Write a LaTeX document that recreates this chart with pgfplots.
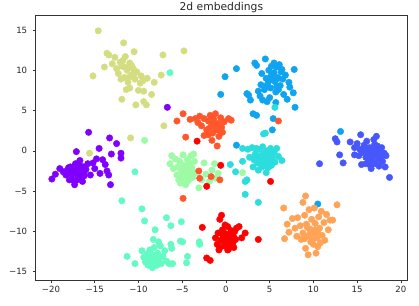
\documentclass[border=0pt]{standalone}
\usepackage{pgfplots}
\pgfplotsset{compat=1.18}
\usepackage{fontspec}
\setmainfont{DejaVu Sans}
\definecolor{c0}{RGB}{128,0,255}
\definecolor{c1}{RGB}{71,87,251}
\definecolor{c2}{RGB}{14,164,240}
\definecolor{c3}{RGB}{43,221,221}
\definecolor{c4}{RGB}{99,251,195}
\definecolor{c5}{RGB}{156,251,164}
\definecolor{c6}{RGB}{212,221,128}
\definecolor{c7}{RGB}{255,164,87}
\definecolor{c8}{RGB}{255,87,44}
\definecolor{c9}{RGB}{255,0,0}
\begin{document}
\begin{tikzpicture}
\path[use as bounding box] (-35.7bp,-26bp) rectangle (383.3bp,280bp);
\begin{axis}[
  at={(0,0)}, anchor=south west,
  scale only axis, width=371.3bp, height=264.3bp,
  xmin=-21.75, xmax=20.7, ymin=-16.03, ymax=16.77,
  axis line style={draw=black!80, line width=0.7bp},
  tick align=outside, xtick pos=bottom, ytick pos=left,
  major tick length=3bp,
  tick style={draw=black!80, line width=0.6bp},
  xtick={-20,-15,-10,-5,0,5,10,15,20},
  xticklabels={−20,−15,−10,−5,0,5,10,15,20},
  ytick={-15,-10,-5,0,5,10,15},
  yticklabels={−15,−10,−5,0,5,10,15},
  ticklabel style={font=\fontsize{8.6}{10}\selectfont, text=black!85},
  yticklabel style={xshift=-2bp},
  title={2d embeddings},
  title style={at={(0.5,1)}, anchor=base, yshift=-0.5bp, font=\fontsize{10.8}{12}\selectfont, text=black!85},
  only marks,
  every axis plot/.append style={mark=*, mark size=3.25bp, mark options={draw=none}},
]
% class 6 khaki
\addplot[color=c6] coordinates {(-15.6,-0.3)(-15.2,9.3)(-14.6,14.9)(-13.9,10.4)(-13.6,12.1)(-13.4,11.9)(-13.0,10.8)(-12.7,11.6)(-12.5,10.2)(-12.3,9.6)(-12.1,11.0)(-11.9,6.4)(-11.9,10.5)(-11.7,13.4)(-11.6,9.1)(-11.5,11.7)(-11.3,10.0)(-11.2,8.5)(-11.0,7.8)(-11.0,10.9)(-10.9,1.6)(-10.8,9.4)(-10.6,10.2)(-10.5,12.3)(-10.4,8.9)(-10.3,5.7)(-10.2,9.8)(-10.0,7.5)(-9.8,8.4)(-9.7,9.3)(-9.5,8.7)(-9.4,6.1)(-9.4,7.4)(-9.1,5.7)(-9.0,9.0)(-8.5,7.0)(-8.2,8.5)(-7.4,9.4)(-7.2,11.9)(-7.1,3.1)(-4.8,12.4)(-12.0,8.9)(-11.4,7.6)(-11.2,10.3)(-10.8,10.6)(-11.6,10.4)(-10.5,9.6)(-11.0,9.2)(-11.8,11.2)};
% class 0 purple
\addplot[color=c0] coordinates {(-19.9,-3.5)(-19.5,-2.9)(-19.0,-2.2)(-18.6,-2.6)(-18.3,-3.0)(-18.0,-2.1)(-17.8,-3.2)(-17.6,-2.6)(-17.4,-3.7)(-17.3,-4.2)(-17.2,-1.6)(-17.1,-0.1)(-17.0,-2.9)(-16.9,-2.3)(-16.8,-3.4)(-16.6,-1.9)(-16.5,-2.7)(-16.4,-3.8)(-16.2,-3.1)(-16.0,-2.3)(-15.8,-1.6)(-15.7,2.3)(-15.5,-3.0)(-15.2,-1.5)(-15.0,-2.2)(-14.8,-1.0)(-14.5,0.3)(-14.4,-2.8)(-14.1,-1.1)(-13.8,-1.7)(-13.6,-2.5)(-13.4,-3.0)(-13.3,1.6)(-13.2,-4.2)(-13.1,-0.4)(-12.5,0.9)(-12.0,-0.3)(-12.0,-0.9)(-17.5,-2.0)(-17.9,-3.6)(-16.7,-1.2)(-17.7,-2.4)(-16.3,-2.0)(-6.7,5.4)(-17.3,-2.7)(-16.9,-3.1)(-17.6,-3.0)(-16.5,-2.2)(-17.0,-3.6)(-18.2,-2.5)(-16.2,-2.6)(-17.8,-2.0)};
% class 1 blue
\addplot[color=c1] coordinates {(10.7,-1.6)(12.5,1.5)(12.7,1.1)(13.0,-0.5)(13.4,-1.5)(14.2,1.1)(14.7,0.4)(14.7,-0.5)(15.0,0.9)(15.3,0.2)(15.4,2.0)(15.5,-1.7)(15.6,-0.2)(15.8,0.7)(16.0,-0.8)(16.1,1.2)(16.2,-0.1)(16.3,-1.3)(16.4,0.4)(16.5,-0.6)(16.6,-2.2)(16.7,-1.0)(16.8,0.2)(16.9,1.4)(17.0,-0.4)(17.1,-1.6)(17.2,1.8)(17.3,0.6)(17.4,-0.9)(17.5,-1.9)(17.6,0.1)(17.8,-0.6)(17.9,-1.3)(18.1,-0.3)(18.2,-2.0)(18.3,-0.6)(18.7,-3.3)(16.0,-1.6)(15.9,0.3)(16.6,-0.2)(17.0,0.8)(15.2,-0.6)(16.3,-0.4)(16.8,-1.4)(17.2,-0.2)(16.0,0.0)(17.6,-1.1)(16.5,-1.8)(17.8,0.4)};
% class 2 light blue
\addplot[color=c2] coordinates {(-0.6,7.0)(-0.1,9.2)(1.2,10.2)(2.4,7.1)(2.6,6.9)(2.8,6.3)(3.1,4.6)(3.5,4.4)(3.3,10.9)(3.5,10.6)(3.7,7.4)(3.9,6.8)(4.0,8.2)(4.1,9.6)(4.2,6.3)(4.4,7.6)(4.5,11.4)(4.6,9.0)(4.7,6.1)(4.8,8.4)(4.9,10.0)(5.0,6.6)(5.1,7.8)(5.2,9.4)(5.3,2.6)(5.4,4.0)(5.5,10.9)(5.6,8.6)(5.7,6.0)(5.8,10.4)(5.9,9.1)(6.0,7.6)(6.1,10.7)(6.2,8.1)(6.3,9.8)(6.5,8.9)(6.6,7.0)(6.8,9.4)(7.0,6.4)(7.2,8.5)(7.3,7.9)(7.7,7.2)(7.8,10.1)(7.9,5.4)(5.3,8.9)(5.8,8.0)(1.2,0.7)(10.5,-6.6)(13.1,2.4)(5.5,9.7)(6.0,9.0)(5.0,8.8)(5.7,7.3)(6.4,10.1)(4.6,8.0)(5.2,10.5)};
% class 3 cyan
\addplot[color=c3] coordinates {(0.5,-1.7)(1.1,-2.6)(1.9,-1.3)(1.9,0.3)(2.2,-3.8)(2.4,-3.6)(2.2,-5.4)(2.5,0.2)(2.7,-0.8)(3.0,0.4)(3.1,-2.0)(3.2,-1.1)(3.4,-0.3)(3.5,0.3)(3.6,-1.5)(3.7,-2.4)(3.7,-6.4)(3.8,-0.7)(3.9,0.2)(4.0,-1.2)(4.1,-2.0)(4.2,0.5)(4.3,-0.4)(4.3,2.1)(4.5,2.2)(4.4,-1.6)(4.6,-0.9)(4.7,0.0)(4.8,-2.1)(4.9,-1.3)(5.0,-0.5)(5.1,0.3)(5.2,-1.8)(5.3,-0.9)(5.5,-0.2)(5.6,-1.4)(5.8,0.3)(6.0,-0.7)(6.4,-1.2)(5.6,5.4)(4.6,-2.7)(4.0,-0.6)(4.5,-0.3)(3.8,-1.4)(5.0,-1.0)(4.2,-1.9)(3.3,-0.6)};
% class 4 mint
\addplot[color=c4] coordinates {(-11.9,-6.2)(-11.3,-13.1)(-10.4,-14.0)(-10.4,-2.6)(-9.6,-7.2)(-9.3,-8.7)(-9.6,-12.4)(-9.4,-13.2)(-9.2,-13.8)(-9.0,-12.8)(-8.9,-14.2)(-8.8,-13.4)(-8.7,-12.3)(-8.5,-13.9)(-8.4,-14.5)(-8.3,-11.0)(-8.3,-13.0)(-8.2,-12.0)(-8.1,-9.8)(-8.0,-13.6)(-7.9,-14.2)(-7.8,-12.7)(-7.6,-13.3)(-7.5,-11.8)(-7.4,-14.0)(-7.2,-13.1)(-7.0,-12.4)(-6.8,-8.3)(-6.8,-13.7)(-6.5,-14.0)(-6.3,-9.3)(-6.3,-11.6)(-6.2,-12.1)(-6.1,-14.0)(-5.1,-8.8)(-5.2,-11.2)(-4.95,-11.3)(-4.4,-13.1)(-4.5,-13.9)(-3.05,-11.3)(-3.0,-11.6)(-6.4,9.7)(-8.6,-12.8)(-7.7,-11.3)(-8.4,-13.3)(-8.0,-12.9)(-8.7,-13.6)(-7.9,-13.9)(-8.2,-14.2)(-8.9,-13.0)};
% class 5 light green
\addplot[color=c5] coordinates {(-9.3,1.3)(-6.4,-1.6)(-6.2,-0.6)(-6.0,-2.2)(-5.8,-1.0)(-5.6,-3.0)(-5.5,-2.0)(-5.4,-3.6)(-5.3,-1.3)(-5.1,-2.6)(-5.0,-3.9)(-4.9,-0.5)(-4.8,-1.8)(-4.7,-3.2)(-4.5,-2.3)(-4.4,-1.1)(-4.3,-3.7)(-4.2,-2.8)(-4.1,-1.6)(-4.0,-0.6)(-3.9,-2.1)(-3.8,-3.3)(-3.7,-0.4)(-3.6,-1.3)(-3.5,-2.7)(-3.1,-4.6)(-2.8,-3.6)(-2.5,-1.5)(-2.3,-2.9)(-1.9,-3.8)(-1.6,-2.4)(-1.3,-1.6)(-0.9,-2.8)(-1.2,-3.4)(1.9,-2.7)(-5.2,-4.0)(-4.6,-4.2)(-4.5,-2.9)(-4.8,-2.2)(-4.2,-1.9)(-5.0,-3.2)(-4.0,-3.0)};
% class 7 orange
\addplot[color=c7] coordinates {(6.6,-7.1)(6.7,-10.9)(7.0,-9.1)(7.2,-10.1)(7.6,-8.4)(7.9,-9.6)(8.1,-10.6)(8.2,-8.3)(8.5,-9.3)(8.6,-11.0)(8.8,-6.4)(8.8,-10.2)(9.0,-8.0)(9.1,-5.6)(9.1,-12.1)(9.2,-9.1)(9.3,-10.6)(9.4,-12.9)(9.5,-7.3)(9.6,-9.7)(9.7,-11.3)(9.8,-8.5)(10.0,-10.2)(10.1,-7.1)(10.2,-9.0)(10.3,-12.7)(10.4,-10.8)(10.5,-11.9)(10.6,-8.2)(10.7,-9.6)(10.9,-7.5)(11.0,-10.5)(11.2,-8.9)(11.3,-11.1)(11.5,-7.9)(11.7,-9.8)(11.9,-8.6)(12.2,-8.6)(12.7,-6.7)(10.0,-11.6)(9.0,-10.9)(9.6,-10.3)(10.2,-9.8)(9.9,-11.0)(10.5,-10.2)(9.3,-9.5)(10.8,-11.4)};
% class 8 red-orange
\addplot[color=c8] coordinates {(-5.6,3.7)(-4.9,4.6)(-4.6,1.7)(-4.1,3.9)(-3.5,4.0)(-3.2,3.5)(-3.0,4.3)(-2.8,3.1)(-2.5,1.9)(-2.5,4.0)(-2.2,2.6)(-2.0,3.7)(-1.8,4.4)(-1.7,3.0)(-1.5,2.2)(-1.4,3.9)(-1.2,4.6)(-1.1,2.7)(-1.0,0.6)(-0.9,3.4)(-0.8,1.8)(-0.6,4.1)(-0.5,2.9)(-0.4,2.3)(-0.2,3.6)(0.3,4.0)(0.6,3.8)(-1.6,1.3)(6.0,3.7)(-3.1,-2.5)(-3.0,-3.4)(-1.7,-3.2)(-0.7,-3.6)(-4.9,-5.9)(-2.0,2.0)(-1.3,3.3)(-0.9,2.6)(-1.6,3.6)(-0.7,3.1)(-1.9,2.8)};
% class 9 red
\addplot[color=c9] coordinates {(-3.3,1.2)(-2.2,-4.4)(-0.6,-1.8)(5.1,-3.8)(-2.7,-9.5)(-2.2,-13.3)(-1.8,-13.6)(-0.5,-8.0)(-0.7,-8.5)(-1.2,-10.8)(-1.0,-11.6)(-0.9,-10.2)(-0.7,-12.0)(-0.6,-11.1)(-0.4,-9.8)(-0.3,-10.6)(-0.2,-11.8)(0.0,-10.3)(0.1,-11.3)(0.2,-9.4)(0.3,-12.2)(0.4,-10.8)(0.5,-11.7)(0.6,-9.9)(0.7,-10.5)(0.8,-11.4)(0.9,-12.0)(1.0,-10.0)(1.1,-11.0)(1.2,-9.6)(1.5,-9.4)(1.8,-10.8)(2.2,-10.2)(3.7,-11.0)(0.2,-12.3)(-0.8,-12.3)(-0.1,-9.2)(0.2,-10.9)(0.5,-10.3)(-0.2,-11.3)(0.6,-11.1)(0.0,-11.8)(-0.4,-10.4)(0.9,-10.7)};
\end{axis}
\end{tikzpicture}
\end{document}
